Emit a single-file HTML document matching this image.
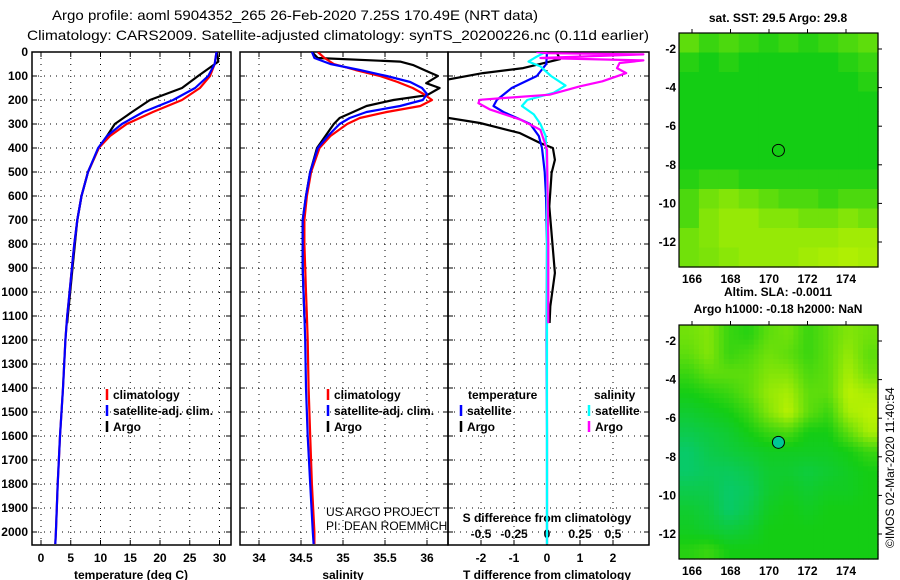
<!DOCTYPE html>
<html><head><meta charset="utf-8"><style>
body{margin:0;background:#fff;}
svg{display:block;font-family:"Liberation Sans",sans-serif;}
.b{font-weight:bold;font-size:12px;}
</style></head><body>
<svg id="c" width="900" height="580" viewBox="0 0 900 580" xmlns="http://www.w3.org/2000/svg">
<defs>
<clipPath id="cp1"><rect x="32" y="52" width="199" height="493"/></clipPath>
<clipPath id="cp2"><rect x="240" y="52" width="208" height="493"/></clipPath>
<clipPath id="cp3"><rect x="448" y="52" width="201" height="493"/></clipPath>
</defs>
<text x="295" y="20" text-anchor="middle" font-size="14" textLength="486" lengthAdjust="spacingAndGlyphs">Argo profile: aoml 5904352_265 26-Feb-2020 7.25S 170.49E (NRT data)</text>
<text x="338" y="40" text-anchor="middle" font-size="14" textLength="622" lengthAdjust="spacingAndGlyphs">Climatology: CARS2009. Satellite-adjusted climatology: synTS_20200226.nc (0.11d earlier)</text>
<g id="grid"></g>
<g id="plots"></g>
<g id="maps"></g>
</svg>
<script>
var NS="http://www.w3.org/2000/svg";
var svg=document.getElementById('c');
var G=document.getElementById('grid'),P=document.getElementById('plots'),M=document.getElementById('maps');
function mk(t,a,p){var e=document.createElementNS(NS,t);for(var k in a)e.setAttribute(k,a[k]);(p||svg).appendChild(e);return e;}
function tx(x,y,s,a,cls,p){var e=mk('text',Object.assign({x:x,y:y},a||{}),p);e.textContent=s;if(cls)e.setAttribute('class',cls);return e;}

// ---- data ----
var depthTicks=[0,100,200,300,400,500,600,700,800,900,1000,1100,1200,1300,1400,1500,1600,1700,1800,1900,2000];
var tempTicks=[0,5,10,15,20,25,30];
var salTicks=[34,34.5,35,35.5,36];
var tdiffTicks=[-2,-1,0,1,2];
var sdiffTicks=[-0.5,-0.25,0,0.25,0.5];

var tDepthClim=[0,50,100,150,200,250,300,350,400,500,600,700,800,900,1000,1100,1200,1400,1600,1800,2000,2050];
var tempClim=[29.5,29.2,28.4,26.7,23.7,18.8,14.4,11.6,9.7,7.9,6.8,6.1,5.6,5.2,4.8,4.4,4.1,3.7,3.2,2.8,2.5,2.4];
var tempSat =[29.5,29.2,28.1,25.9,22.2,17.2,13.6,11.1,9.6,7.9,6.8,6.1,5.6,5.2,4.8,4.4,4.1,3.7,3.2,2.8,2.5,2.4];
var tDepthArgo=[0,40,100,150,200,250,300,350,400,500,600,700,800,900,1000,1100,1130];
var tempArgo=[29.6,29.8,26.4,23.7,18.3,15.3,12.4,11.1,9.7,7.9,6.8,6.1,5.7,5.3,4.9,4.5,4.4];

var sDepth=[0,25,50,75,100,125,150,175,200,225,250,275,300,350,400,500,600,700,800,900,1000,1100,1200,1400,1600,1800,2000,2050];
var salClim=[34.7,34.78,34.89,35.15,35.44,35.65,35.83,35.96,36.06,35.92,35.52,35.2,35.05,34.85,34.72,34.62,34.57,34.54,34.54,34.55,34.56,34.57,34.58,34.59,34.61,34.63,34.66,34.66];
var salSat =[34.63,34.66,34.85,35.2,35.52,35.8,35.94,36.0,35.95,35.68,35.28,35.08,34.96,34.82,34.7,34.61,34.56,34.52,34.52,34.52,34.53,34.54,34.55,34.56,34.58,34.61,34.64,34.65];
var sDepthArgo=[0,25,40,55,80,100,130,150,180,200,225,250,275,300,350,400,500,600,700,800,900,1000,1100,1130];
var salArgo=[34.63,34.7,35.68,35.84,36.0,36.13,35.99,36.15,36.0,35.6,35.28,35.12,34.96,34.89,34.79,34.69,34.61,34.56,34.52,34.52,34.52,34.53,34.54,34.55];

var dTArgoDepth=[0,30,67,88,122,268,296,338,379,400,449,504,643,921,1060,1129];
var dTArgo=[0.29,0.39,-0.72,-1.94,-3.3,-3.3,-2.03,-0.82,-0.21,0.18,0.24,0.14,0.07,0.24,0.1,0.08];
var dTSatDepth=[0,50,100,150,200,225,250,275,300,350,400,500,600,800,1200,1600,2050];
var dTSat=[0,-0.02,-0.31,-1.07,-1.52,-1.62,-1.32,-0.91,-0.51,-0.25,-0.15,-0.07,-0.03,0,-0.01,0,0];
var dSSatDepth=[0,20,40,60,100,140,170,200,225,260,300,350,500,1000,1500,2050];
var dSSat=[-0.01,-0.08,-0.14,-0.05,0.03,0.14,0.05,-0.15,-0.19,-0.1,-0.05,-0.01,0,0,0,0];
var dSArgoDepth=[0,5,10,25,35,46,67,88,122,143,178,199,213,240,282,324,407,800,1130];
var dSArgo=[-0.08,0.0,0.73,-0.05,0.73,0.55,0.53,0.6,0.42,0.25,0.02,-0.51,-0.52,-0.43,-0.2,-0.05,0.0,0.01,0.01];

// ---- axes ----
function yD(d){return 52+0.24*d;}
function xT(t){return 41+5.95*t;}
function xS(s){return 301+84*(s-34.5);}
function xDT(v){return 547+33*v;}
function xDS(v){return 547+132*v;}

var panels=[[32,199,'temperature-panel'],[240,208,'salinity-panel'],[448,201,'difference-panel']];
panels.forEach(function(p){
  var r=mk('rect',{x:p[0],y:52,width:p[1],height:493,fill:'none',stroke:'#000','stroke-width':1.5},G);
  
  
  depthTicks.forEach(function(d){
    mk('line',{x1:p[0],x2:p[0]+p[1],y1:yD(d),y2:yD(d),stroke:'#000','stroke-width':1,'stroke-dasharray':'1,5'},G);
    mk('line',{x1:p[0],x2:p[0]+5,y1:yD(d),y2:yD(d),stroke:'#000'},G);
    mk('line',{x1:p[0]+p[1]-5,x2:p[0]+p[1],y1:yD(d),y2:yD(d),stroke:'#000'},G);
  });
});
depthTicks.forEach(function(d){
  var t=tx(28,yD(d)+4,String(d),{'text-anchor':'end'},'b',G);
  
  
});
function xgrid(ticks,f,lbl,name){
  ticks.forEach(function(v){
    var x=f(v);
    mk('line',{x1:x,x2:x,y1:52,y2:545,stroke:'#000','stroke-width':1,'stroke-dasharray':'1,5'},G);
    mk('line',{x1:x,x2:x,y1:52,y2:57,stroke:'#000'},G);
    mk('line',{x1:x,x2:x,y1:540,y2:545,stroke:'#000'},G);
    var t=tx(x,562,String(v),{'text-anchor':'middle'},'b',G);
    
    
  });
}
xgrid(tempTicks,xT,0,'temperature-tick-label');
xgrid(salTicks,xS,0,'salinity-tick-label');
xgrid(tdiffTicks,xDT,0,'t-difference-tick-label');
sdiffTicks.forEach(function(v){
  var t=tx(xDS(v),538,String(v),{'text-anchor':'middle'},'b',G);
  
  
});
var t;
t=tx(131,579,'temperature (deg C)',{'text-anchor':'middle'},'b',G);
t=tx(343,579,'salinity',{'text-anchor':'middle'},'b',G);
t=tx(547,579,'T difference from climatology',{'text-anchor':'middle'},'b',G);
t=tx(547,522,'S difference from climatology',{'text-anchor':'middle'},'b',G);
t=tx(326,516,'US ARGO PROJECT',{'font-size':12},null,G);
t=tx(326,530,'PI: DEAN ROEMMICH',{'font-size':12},null,G);

// ---- lines ----
function line(vals,depths,fx,col,clip,name){
  var pts=vals.map(function(v,i){return fx(v).toFixed(1)+','+yD(depths[i]).toFixed(1);}).join(' ');
  var e=mk('polyline',{points:pts,fill:'none',stroke:col,'stroke-width':2.2,'clip-path':'url(#'+clip+')','stroke-linejoin':'round'},P);
  
  
}
line(tempArgo,tDepthArgo,xT,'#000','cp1','temperature-argo-line');
line(tempClim,tDepthClim,xT,'#f00','cp1','temperature-climatology-line');
line(tempSat,tDepthClim,xT,'#00f','cp1','temperature-satellite-line');
line(salArgo,sDepthArgo,xS,'#000','cp2','salinity-argo-line');
line(salClim,sDepth,xS,'#f00','cp2','salinity-climatology-line');
line(salSat,sDepth,xS,'#00f','cp2','salinity-satellite-line');
line(dTArgo,dTArgoDepth,xDT,'#000','cp3','t-diff-argo-line');
line(dTSat,dTSatDepth,xDT,'#00f','cp3','t-diff-satellite-line');
line(dSSat,dSSatDepth,xDS,'#0ff','cp3','s-diff-satellite-line');
line(dSArgo,dSArgoDepth,xDS,'#f0f','cp3','s-diff-argo-line');

// ---- legends ----
function leg(x,y,col,label,name){
  var g=mk('g',{},P);
  
  
  mk('line',{x1:x,x2:x,y1:y-10,y2:y+1,stroke:col,'stroke-width':2.5},g);
  tx(x+6,y,label,{},'b',g);
}
leg(107,399,'#f00','climatology','legend-entry-climatology');
leg(107,415,'#00f','satellite-adj. clim.','legend-entry-satellite-adj');
leg(107,431,'#000','Argo','legend-entry-argo');
leg(328,399,'#f00','climatology','legend-entry-climatology');
leg(328,415,'#00f','satellite-adj. clim.','legend-entry-satellite-adj');
leg(328,431,'#000','Argo','legend-entry-argo');
t=tx(468,399,'temperature',{},'b',P);
t=tx(594,399,'salinity',{},'b',P);
leg(461,415,'#00f','satellite','legend-entry-t-satellite');
leg(461,431,'#000','Argo','legend-entry-t-argo');
leg(589,415,'#0ff','satellite','legend-entry-s-satellite');
leg(589,431,'#f0f','Argo','legend-entry-s-argo');

// ---- maps ----
var lonTicks=[166,168,170,172,174];
var latTicks=[-2,-4,-6,-8,-10,-12];
var sstGrid=[
[0.7,0.6,0.65,0.6,0.55,0.6,0.55,0.6,0.65,0.7],
[0.55,0.5,0.55,0.5,0.5,0.5,0.5,0.5,0.55,0.6],
[0.5,0.5,0.5,0.5,0.5,0.5,0.5,0.5,0.5,0.55],
[0.5,0.5,0.5,0.5,0.5,0.5,0.5,0.5,0.5,0.5],
[0.5,0.5,0.5,0.5,0.5,0.5,0.5,0.5,0.5,0.5],
[0.5,0.5,0.5,0.5,0.5,0.5,0.5,0.5,0.5,0.5],
[0.5,0.5,0.5,0.5,0.5,0.5,0.5,0.5,0.5,0.5],
[0.55,0.6,0.6,0.55,0.55,0.55,0.55,0.55,0.55,0.55],
[0.65,0.75,0.8,0.75,0.7,0.65,0.65,0.6,0.65,0.65],
[0.65,0.8,0.85,0.85,0.8,0.8,0.75,0.75,0.8,0.75],
[0.75,0.8,0.85,0.85,0.85,0.85,0.85,0.85,0.88,0.88],
[0.75,0.78,0.82,0.85,0.85,0.85,0.88,0.9,0.92,0.9]];
var slaGrid=[
[0.75,0.8,0.6,0.55,0.7,0.75,0.6,0.7,0.8,0.75],
[0.7,0.8,0.6,0.65,0.75,0.7,0.6,0.7,0.85,0.7],
[0.6,0.7,0.7,0.7,0.8,0.8,0.65,0.7,0.9,0.75],
[0.5,0.55,0.6,0.7,0.85,0.9,0.7,0.7,0.95,0.9],
[0.4,0.45,0.5,0.6,0.8,0.95,0.7,0.6,0.9,0.95],
[0.3,0.35,0.4,0.5,0.6,0.65,0.5,0.5,0.7,0.9],
[0.2,0.3,0.35,0.4,0.45,0.45,0.45,0.45,0.5,0.6],
[0.2,0.25,0.25,0.3,0.4,0.4,0.35,0.4,0.45,0.5],
[0.3,0.3,0.2,0.25,0.4,0.45,0.4,0.45,0.45,0.5],
[0.4,0.35,0.2,0.3,0.45,0.5,0.45,0.5,0.5,0.5],
[0.45,0.4,0.35,0.4,0.5,0.5,0.5,0.5,0.5,0.5],
[0.55,0.6,0.5,0.5,0.5,0.5,0.5,0.5,0.5,0.5]];
var argoLon=[170.49], argoLat=[-7.25];

function cmap(v){
  var a,b,f;
  if(v<0.5){a=[0,200,160];b=[20,205,20];f=v/0.5;}else{a=[20,205,20];b=[205,245,0];f=(v-0.5)/0.5;}
  return 'rgb('+[0,1,2].map(function(i){return Math.round(a[i]+(b[i]-a[i])*f);}).join(',')+')';
}
function sample(grid,fr,fc){
  var rows=grid.length,cols=grid[0].length;
  var r=Math.max(0,Math.min(rows-1,fr)),c=Math.max(0,Math.min(cols-1,fc));
  var r0=Math.floor(r),c0=Math.floor(c),r1=Math.min(rows-1,r0+1),c1=Math.min(cols-1,c0+1);
  var dr=r-r0,dc=c-c0;
  return grid[r0][c0]*(1-dr)*(1-dc)+grid[r0][c1]*(1-dr)*dc+grid[r1][c0]*dr*(1-dc)+grid[r1][c1]*dr*dc;
}
function drawMap(y0,grid,name,circFill,title1,title2,lblY,sub){
  var x0=679,w=199,h=234;
  function mx(lon){return 692+(lon-166)*19.25;}
  function my(lat){return y0+16+(-2-lat)*19.3;}
  var g=mk('g',{},M);
  
  
  var rows=grid.length,cols=grid[0].length;
  var R=rows*sub,C=cols*sub;
  for(var r=0;r<R;r++)for(var c=0;c<C;c++){
    var v=sub>1?sample(grid,(r+0.5)/sub-0.5,(c+0.5)/sub-0.5):grid[r][c];
    var cell=mk('rect',{x:x0+c*w/C,y:y0+r*h/R,width:w/C+0.6,height:h/R+0.6,fill:cmap(v)},g);
    
    
  }
  mk('rect',{x:x0,y:y0,width:w,height:h,fill:'none',stroke:'#000','stroke-width':1.2},g);
  lonTicks.forEach(function(l){
    mk('line',{x1:mx(l),x2:mx(l),y1:y0-4,y2:y0,stroke:'#000'},g);
    var tl=tx(mx(l),y0+h+16,String(l),{'text-anchor':'middle'},'b',g);
    
    
  });
  latTicks.forEach(function(l){
    mk('line',{x1:x0+w,x2:x0+w+4,y1:my(l),y2:my(l),stroke:'#000'},g);
    var tl=tx(676,my(l)+4,String(l),{'text-anchor':'end'},'b',g);
    
    
  });
  argoLon.forEach(function(lo,i){
    var c=mk('circle',{cx:mx(lo),cy:my(argoLat[i]),r:6,fill:circFill,stroke:'#000','stroke-width':1},g);
    
    
  });
  var t1=tx(778,lblY,title1,{'text-anchor':'middle'},'b',g);
  
  
  if(title2){var t2=tx(778,lblY+17,title2,{'text-anchor':'middle'},'b',g);
    
    }
}
drawMap(33,sstGrid,'sst-map','rgb(20,205,20)','sat. SST: 29.5 Argo: 29.8',null,22,1);
drawMap(325,slaGrid,'sla-map','rgb(0,200,150)','Altim. SLA: -0.0011','Argo h1000: -0.18 h2000: NaN',296,4);
var cr=tx(0,0,'©IMOS 02-Mar-2020 11:40:54',{'font-size':12,transform:'translate(894,548) rotate(-90)'},null,M);


</script>
</body></html>
